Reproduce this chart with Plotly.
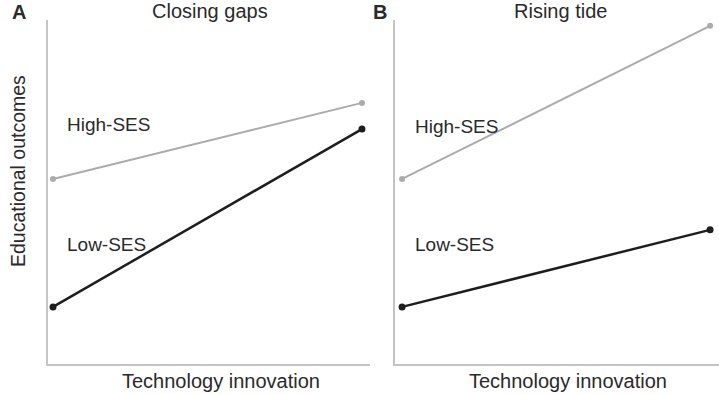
import plotly.graph_objects as go

# Data (arbitrary units)
x_levels = [0, 1]
closing_high = [5.38, 7.59]
closing_low = [1.66, 6.83]
rising_high = [5.38, 9.83]
rising_low = [1.66, 3.90]

panel_titles = ["Closing gaps", "Rising tide"]
panel_letters = ["A", "B"]
series_names = ["High-SES", "Low-SES"]
x_title = "Technology innovation"
y_title = "Educational outcomes"

W, H = 719, 394
FONT = "Liberation Sans, Arial, sans-serif"
TXT = "#2a2a2a"
HIGH_C = "#ababab"
LOW_C = "#1e1e1e"
AX_C = "#c4c4c4"


def px(x):
    return x / W


def py(y):
    return 1 - y / H


fig = go.Figure()

for xa, ya, hi, lo in [("x", "y", closing_high, closing_low),
                       ("x2", "y2", rising_high, rising_low)]:
    fig.add_trace(go.Scatter(x=x_levels, y=hi, xaxis=xa, yaxis=ya, mode="lines+markers",
                             line=dict(color=HIGH_C, width=2),
                             marker=dict(color=HIGH_C, size=6), name=series_names[0],
                             showlegend=False))
    fig.add_trace(go.Scatter(x=x_levels, y=lo, xaxis=xa, yaxis=ya, mode="lines+markers",
                             line=dict(color=LOW_C, width=2.5),
                             marker=dict(color=LOW_C, size=7), name=series_names[1],
                             showlegend=False))

ax_common = dict(showgrid=False, zeroline=False, showticklabels=False, ticks="",
                 showline=True, linecolor=AX_C, linewidth=2)

y_dom = [py(364), py(20)]
fig.update_layout(
    width=W, height=H,
    margin=dict(l=0, r=0, t=0, b=0),
    paper_bgcolor="white", plot_bgcolor="white",
    xaxis=dict(domain=[px(48), px(370)], range=[-0.0162, 1.026], anchor="y", **ax_common),
    yaxis=dict(domain=y_dom, range=[0, 10], anchor="x", **ax_common),
    xaxis2=dict(domain=[px(395), 1.0], range=[-0.023, 1.029], anchor="y2", **ax_common),
    yaxis2=dict(domain=y_dom, range=[0, 10], anchor="x2", **ax_common),
    font=dict(family=FONT, color=TXT),
)

ann = []
# Panel letters (anchored to the top edge so they are not clipped)
ann.append(dict(text=f"<b>{panel_letters[0]}</b>", x=px(19), y=1.0, yanchor="top",
                borderpad=0, font=dict(size=20)))
ann.append(dict(text=f"<b>{panel_letters[1]}</b>", x=px(380), y=1.0, yanchor="top",
                borderpad=0, font=dict(size=20)))
# Titles
ann.append(dict(text=panel_titles[0], x=px(210), y=py(11), font=dict(size=20)))
ann.append(dict(text=panel_titles[1], x=px(560), y=py(11), font=dict(size=20)))
# Axis titles
ann.append(dict(text=x_title, x=px(221), y=py(381), font=dict(size=20)))
ann.append(dict(text=x_title, x=px(568), y=py(381), font=dict(size=20)))
ann.append(dict(text=y_title, x=px(18), y=py(171), textangle=-90, font=dict(size=19.5)))

for a in ann:
    a.setdefault("yanchor", "middle")
    a.update(xref="paper", yref="paper", showarrow=False, xanchor="center")

# Series labels in data coordinates
labels = [("x", "y", 0.039, 6.95, series_names[0]),
          ("x", "y", 0.039, 3.46, series_names[1]),
          ("x2", "y2", 0.036, 6.89, series_names[0]),
          ("x2", "y2", 0.036, 3.46, series_names[1])]
for xr, yr, xv, yv, t in labels:
    ann.append(dict(text=t, x=xv, y=yv, xref=xr, yref=yr, showarrow=False,
                    xanchor="left", yanchor="middle", font=dict(size=19)))

fig.update_layout(annotations=ann)
fig.write_html("out.html")
